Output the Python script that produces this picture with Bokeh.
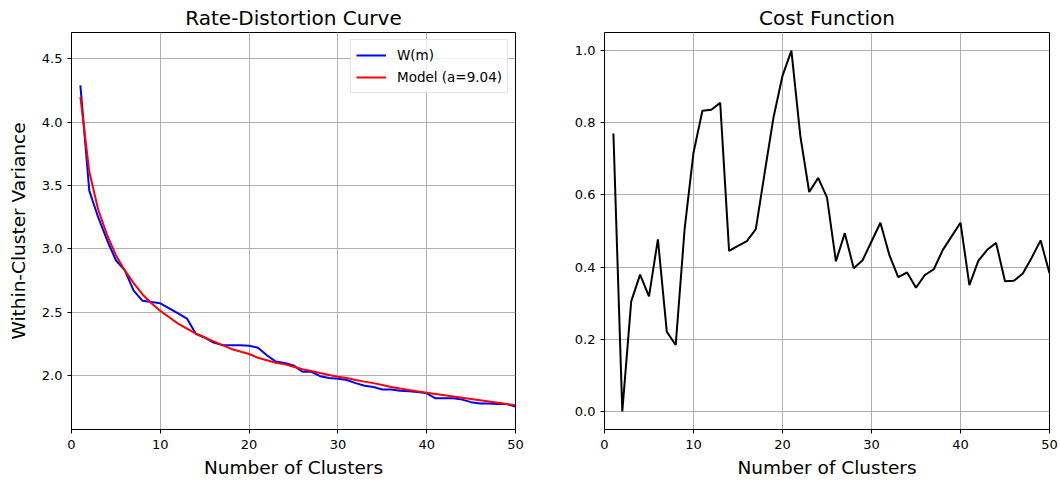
from bokeh.plotting import figure
from bokeh.layouts import row
from bokeh.models import Range1d, FixedTicker, NumeralTickFormatter, Legend, LegendItem
from bokeh.embed import file_html
from bokeh.resources import INLINE

clusters = list(range(1, 51))

w_m = [4.29, 3.46, 3.25, 3.07, 2.91, 2.83, 2.67, 2.59, 2.58, 2.57,
       2.53, 2.49, 2.45, 2.33, 2.30, 2.26, 2.24, 2.24, 2.24, 2.235,
       2.22, 2.16, 2.11, 2.10, 2.08, 2.03, 2.03, 1.995, 1.98, 1.975,
       1.965, 1.94, 1.92, 1.91, 1.89, 1.89, 1.88, 1.876, 1.87, 1.86,
       1.82, 1.82, 1.82, 1.81, 1.79, 1.78, 1.78, 1.775, 1.775, 1.755]

model = [4.20, 3.61, 3.31, 3.11, 2.95, 2.83, 2.73, 2.64, 2.57, 2.51,
         2.46, 2.41, 2.37, 2.33, 2.30, 2.27, 2.24, 2.21, 2.19, 2.17,
         2.14, 2.12, 2.10, 2.09, 2.07, 2.05, 2.035, 2.02, 2.005, 1.99,
         1.98, 1.965, 1.952, 1.94, 1.925, 1.91, 1.897, 1.885, 1.875, 1.865,
         1.855, 1.845, 1.835, 1.825, 1.815, 1.805, 1.795, 1.785, 1.775, 1.765]

cost = [0.770, 0.000, 0.305, 0.379, 0.319, 0.477, 0.221, 0.184, 0.505, 0.717,
        0.833, 0.836, 0.855, 0.445, 0.459, 0.472, 0.505, 0.662, 0.816, 0.930,
        1.000, 0.764, 0.608, 0.647, 0.593, 0.416, 0.494, 0.397, 0.419, 0.471,
        0.523, 0.434, 0.372, 0.385, 0.343, 0.378, 0.394, 0.447, 0.485, 0.523,
        0.350, 0.417, 0.448, 0.467, 0.361, 0.362, 0.382, 0.426, 0.474, 0.383]

x_ticks = [0, 10, 20, 30, 40, 50]
left_y_ticks = [2.0, 2.5, 3.0, 3.5, 4.0, 4.5]
right_y_ticks = [0.0, 0.2, 0.4, 0.6, 0.8, 1.0]

FONT = "DejaVu Sans"


def style(p, title, yticks):
    p.title.text = title
    p.title.text_font = FONT
    p.title.text_font_style = "normal"
    p.title.text_font_size = "20px"
    p.title.text_color = "black"
    p.title.align = "center"
    p.title.standoff = 6
    p.outline_line_color = "black"
    p.outline_line_width = 1
    p.outline_line_alpha = 1
    for ax in (p.xaxis[0], p.yaxis[0]):
        ax.axis_line_color = "black"
        ax.major_tick_line_color = "black"
        ax.major_tick_out = 4
        ax.major_tick_in = 0
        ax.minor_tick_line_color = None
        ax.major_label_text_font = FONT
        ax.major_label_text_font_size = "13px"
        ax.major_label_text_color = "black"
        ax.axis_label_text_font = FONT
        ax.axis_label_text_font_size = "18.5px"
        ax.axis_label_text_font_style = "normal"
        ax.axis_label_text_color = "black"
    p.xaxis.ticker = FixedTicker(ticks=x_ticks)
    p.yaxis.ticker = FixedTicker(ticks=yticks)
    p.xaxis.formatter = NumeralTickFormatter(format="0")
    p.yaxis.formatter = NumeralTickFormatter(format="0.0")
    p.xaxis.major_label_standoff = 6
    p.yaxis.major_label_standoff = 5
    p.xaxis.axis_label = "Number of Clusters"
    p.xaxis.axis_label_standoff = 5
    for g in (p.xgrid[0], p.ygrid[0]):
        g.grid_line_color = "#b0b0b0"
        g.grid_line_width = 1


p1 = figure(frame_width=444, frame_height=397, output_backend="svg",
            toolbar_location=None, x_range=Range1d(0, 50),
            y_range=Range1d(1.574, 4.708),
            min_border_left=71, min_border_right=44,
            min_border_top=32, min_border_bottom=51)
style(p1, "Rate-Distortion Curve", left_y_ticks)
p1.yaxis.axis_label = "Within-Cluster Variance"
p1.yaxis.axis_label_standoff = 10

r_w = p1.line(clusters, w_m, line_color="#0000ff", line_width=2)
r_m = p1.line(clusters, model, line_color="#ff0000", line_width=2)

legend = Legend(items=[LegendItem(label="W(m)", renderers=[r_w]),
                       LegendItem(label="Model (a=9.04)", renderers=[r_m])],
                location="top_right")
legend.margin = 7
legend.padding = 5
legend.spacing = 2
legend.glyph_width = 30
legend.glyph_height = 20
legend.label_height = 20
legend.label_standoff = 11
legend.label_text_font = FONT
legend.label_text_font_size = "13.5px"
legend.label_text_color = "black"
legend.border_line_color = "#cccccc"
legend.background_fill_alpha = 0.8
p1.add_layout(legend)

p2 = figure(frame_width=445, frame_height=397, output_backend="svg",
            toolbar_location=None, x_range=Range1d(0, 50),
            y_range=Range1d(-0.05, 1.05),
            min_border_left=45, min_border_right=11,
            min_border_top=32, min_border_bottom=51)
style(p2, "Cost Function", right_y_ticks)
p2.line(clusters, cost, line_color="black", line_width=2)

layout = row(p1, p2)
open("out.html", "w").write(file_html(layout, INLINE))
